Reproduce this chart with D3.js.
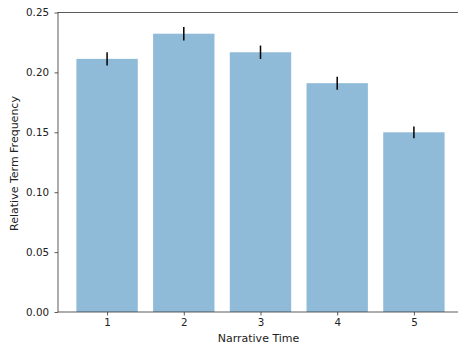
<!DOCTYPE html>
<html>
<head>
<meta charset="utf-8">
<script src="https://cdn.jsdelivr.net/npm/d3@7"></script>
<style>
  html, body { margin: 0; padding: 0; background: #fff; }
  svg { display: block; font-family: "DejaVu Sans", sans-serif; }
</style>
</head>
<body>
<svg id="chart" width="458" height="347"></svg>
<script>
// Relative term frequency by narrative time segment, with error bars
const categories = [1, 2, 3, 4, 5];
const values = [0.2113, 0.2323, 0.2168, 0.1910, 0.1500];
const errors = [0.0055, 0.0057, 0.0056, 0.0054, 0.0049];
const yTicks = [0.00, 0.05, 0.10, 0.15, 0.20, 0.25];

const svg = d3.select("#chart");
const plotLeft = 58, plotRight = 463, plotTop = 12.5, plotBottom = 312;

const x = d3.scaleLinear().domain([0.36, 5.64]).range([plotLeft, plotRight]);
const y = d3.scaleLinear().domain([0, 0.25]).range([plotBottom, plotTop]);
const barWidth = 0.8;

// bars
svg.append("g").selectAll("rect")
  .data(categories)
  .join("rect")
  .attr("x", (d) => x(d - barWidth / 2))
  .attr("width", (d) => x(d + barWidth / 2) - x(d - barWidth / 2))
  .attr("y", (d, i) => y(values[i]))
  .attr("height", (d, i) => y(0) - y(values[i]))
  .attr("fill", "#1f77b4")
  .attr("fill-opacity", 0.5);

// error bars
svg.append("g").selectAll("line")
  .data(categories)
  .join("line")
  .attr("x1", (d) => x(d)).attr("x2", (d) => x(d))
  .attr("y1", (d, i) => y(values[i] - errors[i]))
  .attr("y2", (d, i) => y(values[i] + errors[i]))
  .attr("stroke", "#000")
  .attr("stroke-width", 1.5);

// axes
const xAxis = d3.axisBottom(x).tickValues(categories).tickFormat(d3.format("d"))
  .tickSizeInner(3.5).tickSizeOuter(0).tickPadding(3.5);
const yAxis = d3.axisLeft(y).tickValues(yTicks).tickFormat(d3.format(".2f"))
  .tickSizeInner(3.5).tickSizeOuter(0).tickPadding(5.5);

const gx = svg.append("g").attr("transform", `translate(0,${plotBottom})`).call(xAxis);
const gy = svg.append("g").attr("transform", `translate(${plotLeft},0)`).call(yAxis);
[gx, gy].forEach((g) => {
  g.select(".domain").remove();
  g.selectAll(".tick line").attr("stroke", "#333").attr("stroke-width", 0.8);
  g.selectAll(".tick text").attr("fill", "#222").style("font-size", "10.3px")
    .style("font-family", "DejaVu Sans, sans-serif");
});

// frame
svg.append("rect")
  .attr("x", plotLeft).attr("y", plotTop)
  .attr("width", plotRight - plotLeft).attr("height", plotBottom - plotTop)
  .attr("fill", "none").attr("stroke", "#333").attr("stroke-width", 0.8);

// axis titles
svg.append("text")
  .attr("x", 258.5).attr("y", 342)
  .attr("text-anchor", "middle")
  .style("font-size", "11px").attr("fill", "#222")
  .text("Narrative Time");

svg.append("text")
  .attr("transform", `translate(17.5,163.5) rotate(-90)`)
  .attr("text-anchor", "middle")
  .style("font-size", "11px").attr("fill", "#222")
  .text("Relative Term Frequency");
</script>
</body>
</html>
